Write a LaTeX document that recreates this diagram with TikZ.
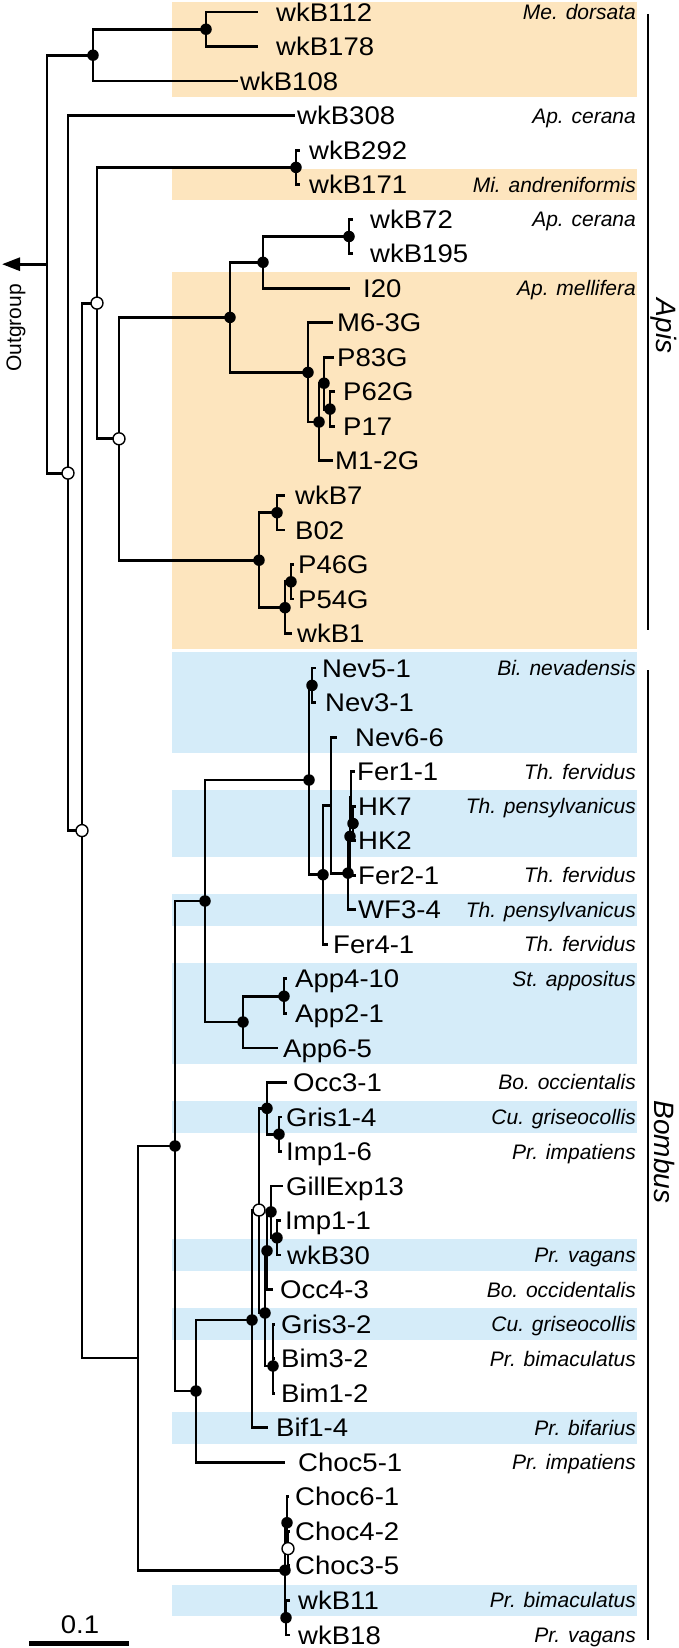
\documentclass[tikz,border=0pt]{standalone}
\usepackage{fontspec}
\setmainfont{Liberation Sans}
\newfontfamily\leaffont[FakeStretch=1.08]{Liberation Sans}
\usetikzlibrary{arrows.meta}
\definecolor{apis}{RGB}{253,229,190}
\definecolor{bomb}{RGB}{213,236,249}
\newcommand{\rowy}[1]{12+(#1-1)*34.53}
\newcommand{\Leaf}[4]{%
  \coordinate (tip#1) at (#2,{\rowy{#1}});
  \node[tiplabel] (lab#1) at (#3,{\rowy{#1}+9.1}) {#4};}
\newcommand{\Species}[2]{%
  \node[species] (sp#1) at (636,{\rowy{#1}+7.5}) {#2};}
\newcommand{\Band}[3][apis]{%
  \fill[#1] (172,{max(2,\rowy{#2}-15.8)}) rectangle (637,{\rowy{#3}+15.8});}

\begin{document}
\begin{tikzpicture}[x=1pt,y=-1pt,line join=miter]
	\tikzstyle{branch}=[line width=2.8pt];
	\tikzstyle{clade}=[line width=2pt];
	\tikzstyle{full}=[circle,fill=black,inner sep=0pt,minimum size=11.5pt];
	\tikzstyle{ring}=[circle,draw=black,fill=white,line width=1.4pt,inner sep=0pt,minimum size=12pt];
	\tikzstyle{tiplabel}=[anchor=base west,inner sep=0pt,font=\leaffont\fontsize{25.5}{30}\selectfont];
	\tikzstyle{species}=[anchor=base east,inner sep=0pt,font=\itshape\fontsize{21}{25}\selectfont];
	\tikzstyle{genus}=[inner sep=0pt,rotate=-90,font=\itshape\fontsize{28}{34}\selectfont];
%<--------------------------------------------------------------------------->%
	\useasboundingbox (0,0) rectangle (678,1648);
	%% bands
	\Band{1}{3}
	\Band{6}{6}
	\Band{9}{19}
	\Band[bomb]{20}{22}
	\Band[bomb]{24}{25}
	\Band[bomb]{27}{27}
	\Band[bomb]{29}{31}
	\Band[bomb]{33}{33}
	\Band[bomb]{37}{37}
	\Band[bomb]{39}{39}
	\Band[bomb]{42}{42}
	\Band[bomb]{47}{47}
	%% tips
	\Leaf{1}{258}{276}{wkB112}
	\Leaf{2}{258}{276}{wkB178}
	\Leaf{3}{238}{240}{wkB108}
	\Leaf{4}{295}{297}{wkB308}
	\Leaf{5}{300}{309}{wkB292}
	\Leaf{6}{300}{309}{wkB171}
	\Leaf{7}{353}{370}{wkB72}
	\Leaf{8}{353}{370}{wkB195}
	\Leaf{9}{350}{363}{I20}
	\Leaf{10}{333}{337}{M6-3G}
	\Leaf{11}{334}{337}{P83G}
	\Leaf{12}{335}{343}{P62G}
	\Leaf{13}{335}{343}{P17}
	\Leaf{14}{333}{335}{M1-2G}
	\Leaf{15}{285}{295}{wkB7}
	\Leaf{16}{285}{295}{B02}
	\Leaf{17}{294}{298}{P46G}
	\Leaf{18}{294}{298}{P54G}
	\Leaf{19}{292}{297}{wkB1}
	\Leaf{20}{316}{322}{Nev5-1}
	\Leaf{21}{316}{325}{Nev3-1}
	\Leaf{22}{337}{355}{Nev6-6}
	\Leaf{23}{355}{357}{Fer1-1}
	\Leaf{24}{356}{358}{HK7}
	\Leaf{25}{356}{358}{HK2}
	\Leaf{26}{356}{358}{Fer2-1}
	\Leaf{27}{356}{358}{WF3-4}
	\Leaf{28}{328}{333}{Fer4-1}
	\Leaf{29}{287}{295}{App4-10}
	\Leaf{30}{287}{295}{App2-1}
	\Leaf{31}{278}{283}{App6-5}
	\Leaf{32}{287}{293}{Occ3-1}
	\Leaf{33}{282}{286}{Gris1-4}
	\Leaf{34}{282}{286}{Imp1-6}
	\Leaf{35}{283}{286}{GillExp13}
	\Leaf{36}{281}{285}{Imp1-1}
	\Leaf{37}{281}{287}{wkB30}
	\Leaf{38}{273}{280}{Occ4-3}
	\Leaf{39}{275}{281}{Gris3-2}
	\Leaf{40}{275}{281}{Bim3-2}
	\Leaf{41}{275}{281}{Bim1-2}
	\Leaf{42}{268}{276}{Bif1-4}
	\Leaf{43}{285}{298}{Choc5-1}
	\Leaf{44}{289}{295}{Choc6-1}
	\Leaf{45}{290}{295}{Choc4-2}
	\Leaf{46}{290}{295}{Choc3-5}
	\Leaf{47}{290}{298}{wkB11}
	\Leaf{48}{290}{298}{wkB18}
	%% inner nodes
	\coordinate (r)   at (47,264.2);
	\coordinate (og)  at (2,264.2);
	\coordinate (md)  at (93,55.2);
	\coordinate (md2) at (206,29.25);
	\coordinate (a)   at (68,473.1);
	\coordinate (c)   at (82,830.6);
	\coordinate (b)   at (97,303.1);
	\coordinate (mi)  at (296,167.4);
	\coordinate (d)   at (119,438.8);
	\coordinate (e)   at (230,317.4);
	\coordinate (g)   at (263,262.3);
	\coordinate (ce)  at (349,236.5);
	\coordinate (h)   at (308,372.4);
	\coordinate (i)   at (319,422);
	\coordinate (j)   at (324,383.2);
	\coordinate (k)   at (330,409.1);
	\coordinate (f)   at (259,560.2);
	\coordinate (l)   at (277,512.7);
	\coordinate (m)   at (285,607.7);
	\coordinate (n)   at (291,581.8);
	\coordinate (p)   at (138,1358);
	\coordinate (q)   at (175,1146);
	\coordinate (s)   at (205,901);
	\coordinate (u)   at (309,780);
	\coordinate (nv)  at (312,685.4);
	\coordinate (w)   at (323,874.7);
	\coordinate (x)   at (331,805.1);
	\coordinate (y)   at (348,873.1);
	\coordinate (z2)  at (350,836.4);
	\coordinate (z1)  at (351,797.6);
	\coordinate (hk)  at (353,823.5);
	\coordinate (v)   at (243,1022);
	\coordinate (ap)  at (284,996.2);
	\coordinate (t)   at (196,1391);
	\coordinate (bf)  at (252,1320);
	\coordinate (op)  at (259,1210);
	\coordinate (oc)  at (267,1108.3);
	\coordinate (gr)  at (279,1134.2);
	\coordinate (q2)  at (265,1313);
	\coordinate (oo)  at (267,1250.8);
	\coordinate (ge)  at (271,1211.9);
	\coordinate (iw)  at (277,1237.8);
	\coordinate (bm)  at (273,1366);
	\coordinate (ch)  at (285,1570.2);
	\coordinate (c1)  at (287,1522.7);
	\coordinate (c2)  at (288,1548.6);
	\coordinate (wb)  at (286,1617.7);
	%% branches
	\draw[branch,-{Triangle[length=18pt,width=13pt]}] (r) -- (og);
	\draw[branch] (r) |- (md);    \draw[branch] (r) |- (a);
	\draw[branch] (md) |- (md2);  \draw[branch] (md) |- (tip3);
	\draw[branch] (md2) |- (tip1); \draw[branch] (md2) |- (tip2);
	\draw[branch] (a) |- (tip4);  \draw[branch] (a) |- (c);
	\draw[branch] (c) |- (b);     \draw[branch] (c) |- (p);
	\draw[branch] (b) |- (mi);    \draw[branch] (b) |- (d);
	\draw[branch] (mi) |- (tip5); \draw[branch] (mi) |- (tip6);
	\draw[branch] (d) |- (e);     \draw[branch] (d) |- (f);
	\draw[branch] (e) |- (g);     \draw[branch] (e) |- (h);
	\draw[branch] (g) |- (ce);    \draw[branch] (g) |- (tip9);
	\draw[branch] (ce) |- (tip7); \draw[branch] (ce) |- (tip8);
	\draw[branch] (h) |- (tip10); \draw[branch] (h) |- (i);
	\draw[branch] (i) |- (j);     \draw[branch] (i) |- (tip14);
	\draw[branch] (j) |- (tip11); \draw[branch] (j) |- (k);
	\draw[branch] (k) |- (tip12); \draw[branch] (k) |- (tip13);
	\draw[branch] (f) |- (l);     \draw[branch] (f) |- (m);
	\draw[branch] (l) |- (tip15); \draw[branch] (l) |- (tip16);
	\draw[branch] (m) |- (n);     \draw[branch] (m) |- (tip19);
	\draw[branch] (n) |- (tip17); \draw[branch] (n) |- (tip18);
	\draw[branch] (p) |- (q);     \draw[branch] (p) |- (ch);
	\draw[branch] (q) |- (s);     \draw[branch] (q) |- (t);
	\draw[branch] (s) |- (u);     \draw[branch] (s) |- (v);
	\draw[branch] (u) |- (nv);    \draw[branch] (u) |- (w);
	\draw[branch] (nv) |- (tip20); \draw[branch] (nv) |- (tip21);
	\draw[branch] (w) |- (x);     \draw[branch] (w) |- (tip28);
	\draw[branch] (x) |- (tip22); \draw[branch] (x) |- (y);
	\draw[branch] (y) |- (z2);    \draw[branch] (y) |- (tip27);
	\draw[branch] (z2) |- (z1);   \draw[branch] (z2) |- (tip26);
	\draw[branch] (z1) |- (tip23); \draw[branch] (z1) |- (hk);
	\draw[branch] (hk) |- (tip24); \draw[branch] (hk) |- (tip25);
	\draw[branch] (v) |- (ap);    \draw[branch] (v) |- (tip31);
	\draw[branch] (ap) |- (tip29); \draw[branch] (ap) |- (tip30);
	\draw[branch] (t) |- (bf);    \draw[branch] (t) |- (tip43);
	\draw[branch] (bf) |- (op);   \draw[branch] (bf) |- (tip42);
	\draw[branch] (op) |- (oc);   \draw[branch] (op) |- (q2);
	\draw[branch] (oc) |- (tip32); \draw[branch] (oc) |- (gr);
	\draw[branch] (gr) |- (tip33); \draw[branch] (gr) |- (tip34);
	\draw[branch] (q2) |- (oo);   \draw[branch] (q2) |- (bm);
	\draw[branch] (oo) |- (ge);   \draw[branch] (oo) |- (tip38);
	\draw[branch] (ge) |- (tip35); \draw[branch] (ge) |- (iw);
	\draw[branch] (iw) |- (tip36); \draw[branch] (iw) |- (tip37);
	\draw[branch] (bm) |- (tip39); \draw[branch] (bm) |- (tip40); \draw[branch] (bm) |- (tip41);
	\draw[branch] (ch) |- (c1);   \draw[branch] (ch) |- (wb);
	\draw[branch] (c1) |- (tip44); \draw[branch] (c1) |- (c2);
	\draw[branch] (c2) |- (tip45); \draw[branch] (c2) |- (tip46);
	\draw[branch] (wb) |- (tip47); \draw[branch] (wb) |- (tip48);
	%% support
	\node[full] (dmd)  at (md)  {};
	\node[full] (dmd2) at (md2) {};
	\node[full] (dmi)  at (mi)  {};
	\node[full] (dce)  at (ce)  {};
	\node[full] (dg)   at (g)   {};
	\node[full] (de)   at (e)   {};
	\node[full] (dh)   at (h)   {};
	\node[full] (di)   at (i)   {};
	\node[full] (dj)   at (j)   {};
	\node[full] (dk)   at (k)   {};
	\node[full] (df)   at (f)   {};
	\node[full] (dl)   at (l)   {};
	\node[full] (dm)   at (m)   {};
	\node[full] (dn)   at (n)   {};
	\node[full] (dnv)  at (nv)  {};
	\node[full] (du)   at (u)   {};
	\node[full] (dw)   at (w)   {};
	\node[full] (dy)   at (y)   {};
	\node[full] (dz2)  at (z2)  {};
	\node[full] (dhk)  at (hk)  {};
	\node[full] (ds)   at (s)   {};
	\node[full] (dv)   at (v)   {};
	\node[full] (dap)  at (ap)  {};
	\node[full] (dq)   at (q)   {};
	\node[full] (dt)   at (t)   {};
	\node[full] (dbf)  at (bf)  {};
	\node[full] (doc)  at (oc)  {};
	\node[full] (dgr)  at (gr)  {};
	\node[full] (doo)  at (oo)  {};
	\node[full] (dge)  at (ge)  {};
	\node[full] (diw)  at (iw)  {};
	\node[full] (dq2)  at (q2)  {};
	\node[full] (dbm)  at (bm)  {};
	\node[full] (dch)  at (ch)  {};
	\node[full] (dc1)  at (c1)  {};
	\node[full] (dwb)  at (wb)  {};
	\node[ring] (oa)   at (a)   {};
	\node[ring] (ob)   at (b)   {};
	\node[ring] (oc0)  at (c)   {};
	\node[ring] (od)   at (d)   {};
	\node[ring] (oop)  at (op)  {};
	\node[ring] (oc2)  at (c2)  {};
	%% species
	\Species{1}{Me. dorsata}
	\Species{4}{Ap. cerana}
	\Species{6}{Mi. andreniformis}
	\Species{7}{Ap. cerana}
	\Species{9}{Ap. mellifera}
	\Species{20}{Bi. nevadensis}
	\Species{23}{Th. fervidus}
	\Species{24}{Th. pensylvanicus}
	\Species{26}{Th. fervidus}
	\Species{27}{Th. pensylvanicus}
	\Species{28}{Th. fervidus}
	\Species{29}{St. appositus}
	\Species{32}{Bo. occientalis}
	\Species{33}{Cu. griseocollis}
	\Species{34}{Pr. impatiens}
	\Species{37}{Pr. vagans}
	\Species{38}{Bo. occidentalis}
	\Species{39}{Cu. griseocollis}
	\Species{40}{Pr. bimaculatus}
	\Species{42}{Pr. bifarius}
	\Species{43}{Pr. impatiens}
	\Species{47}{Pr. bimaculatus}
	\Species{48}{Pr. vagans}
	%% genera
	\coordinate (apT) at (648,14);
	\coordinate (apB) at (648,630);
	\coordinate (boT) at (648,670);
	\coordinate (boB) at (648,1640);
	\draw[clade] (apT) -- (apB);
	\draw[clade] (boT) -- (boB);
	\node[genus] (apis)   at (664,326)  {Apis};
	\node[genus] (bombus) at (664,1152) {Bombus};
	%% outgroup and scale
	\node[inner sep=0pt,rotate=90,font=\fontsize{21}{25}\selectfont] (outg) at (16,328) {Outgroup};
	\coordinate (sbL) at (29,1643);
	\coordinate (sbR) at (129,1643);
	\draw[line width=5pt] (sbL) -- (sbR);
	\node[anchor=base,inner sep=0pt,font=\leaffont\fontsize{25.5}{30}\selectfont] (sbtxt) at (80,1633) {0.1};
\end{tikzpicture}
\end{document}
